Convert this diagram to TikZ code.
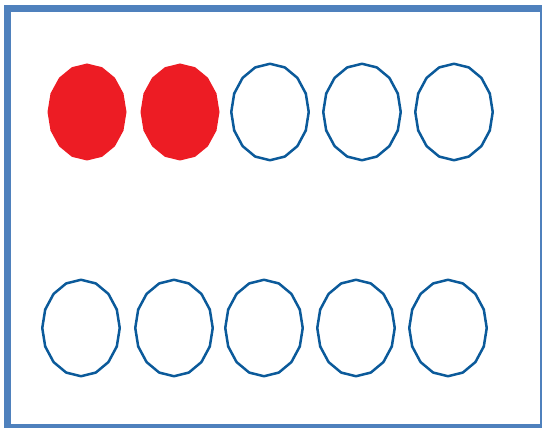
\documentclass[tikz,border=0pt]{standalone}
\definecolor{frameblue}{HTML}{4F81BD}
\definecolor{ovalblue}{HTML}{0B5A9A}
\definecolor{ovalred}{HTML}{ED1C24}
\begin{document}
\begin{tikzpicture}[x=1pt,y=-1pt,
  ovalline/.style={draw=ovalblue,line width=2.5pt,line join=round},
  ovalfill/.style={fill=ovalred}]
\useasboundingbox (0,0) rectangle (542,428);
\clip (0,0) rectangle (542,428);
\draw[frameblue,line width=7pt] (7.5,8.5) rectangle (543.5,427.5);
% top row
\foreach \cx in {87,180} {
  \fill[ovalfill,shift={(\cx,112)}] plot[domain=0:360,samples=17,variable=\t] ({39.5*cos(\t)},{48.5*sin(\t)}) -- cycle;
}
\foreach \cx in {270,362,454} {
  \draw[ovalline,shift={(\cx,112)}] plot[domain=0:360,samples=17,variable=\t] ({38.75*cos(\t)},{48.25*sin(\t)}) -- cycle;
}
% bottom row
\foreach \cx in {81,174,264,356,448} {
  \draw[ovalline,shift={(\cx,328)}] plot[domain=0:360,samples=17,variable=\t] ({38.75*cos(\t)},{48.25*sin(\t)}) -- cycle;
}
\end{tikzpicture}
\end{document}
